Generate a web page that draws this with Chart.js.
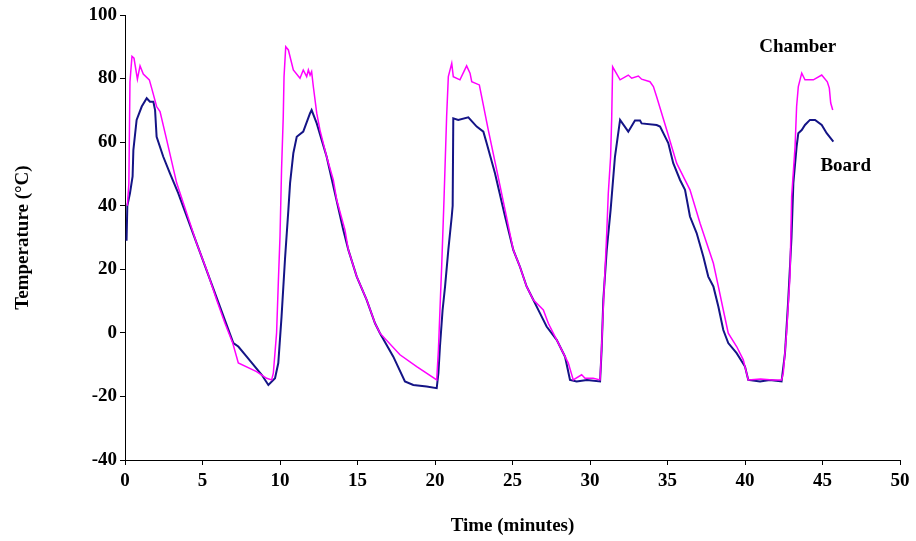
<!DOCTYPE html>
<html><head><meta charset="utf-8">
<script src="https://cdn.jsdelivr.net/npm/chart.js@4.4.1/dist/chart.umd.min.js"></script>
<style>html,body{margin:0;padding:0;background:#fff}#wrap{width:916px;height:541px}</style>
</head><body><div id="wrap"><canvas id="c" width="916" height="541"></canvas></div>
<script>
const xTicks = [0,5,10,15,20,25,30,35,40,45,50];
const yTicks = [-40,-20,0,20,40,60,80,100];
const seriesNames = ["Chamber","Board"];

const chamberTime = [0.15,0.25,0.32,0.45,0.58,0.8,0.97,1.18,1.57,1.72,2.04,2.26,2.69,3.33,4.19,4.62,5.27,5.91,6.45,6.95,7.31,8.49,9.14,9.46,9.57,9.78,9.89,10.0,10.1,10.21,10.26,10.37,10.54,10.86,11.29,11.5,11.72,11.83,11.94,12.04,12.15,12.37,12.58,13.01,13.44,13.66,14.19,14.41,14.95,15.59,16.13,16.45,17.74,18.82,20.11,20.22,20.32,20.43,20.58,20.75,20.86,21.08,21.18,21.61,22.04,22.26,22.37,22.86,23.01,23.44,23.98,24.52,25.05,25.48,25.91,26.34,26.99,27.31,27.85,28.28,28.6,28.92,29.46,29.68,30.2,30.65,30.75,30.86,31.08,31.18,31.33,31.4,31.46,31.94,32.47,32.69,33.12,33.33,33.87,34.09,34.3,34.95,35.59,36.45,37.1,37.53,37.96,38.28,38.6,38.92,39.46,39.89,40.21,41.0,41.8,42.36,42.47,42.68,42.9,43.01,43.23,43.33,43.44,43.66,43.87,44.41,44.95,45.31,45.44,45.53,45.66];
const chamberTemp = [40,47,79,87,86.4,79.8,84,81.4,79.6,77,71.2,69.6,60.7,47.2,34.6,28.2,19.8,10.4,3.0,-3.2,-9.5,-12.2,-14.3,-14.8,-12.7,0,15.6,30.3,51.3,68,80.6,90,89,82.7,80.1,82.7,80.6,82.7,81.1,82.2,77.5,69.1,63.8,55.4,48.1,41.8,32.4,26.1,17.7,10.4,3.0,-0.1,-6.9,-10.6,-14.8,-5.3,7.2,20.8,41.8,68,80.6,84.8,80.6,79.6,84,81.7,79,78,74.3,63.8,51.3,38.7,26.1,20.8,14.6,10.4,7.2,3.0,-2.2,-6.4,-9.5,-14.8,-13.2,-14.3,-14.3,-14.8,-4.3,8.3,31.4,43.9,55.4,67.5,83.7,79.6,81.1,80.1,80.8,79.8,79.0,77.5,74.3,63.8,53.4,45,34.5,28.2,21.9,14.6,7.2,-0.1,-4.3,-8.5,-14.8,-14.5,-14.8,-14.8,-12.7,-0.1,17.7,42.9,58.6,71.2,77.5,81.7,79.6,79.6,81.1,79,77,72.3,70.1];

const boardTime = [0.1,0.15,0.32,0.49,0.54,0.75,1.08,1.4,1.61,1.83,1.94,2.04,2.47,2.9,3.44,6.99,7.31,7.85,8.82,9.25,9.68,9.89,10.1,10.32,10.54,10.65,10.86,11.08,11.5,11.94,12.04,12.37,13.01,14.08,14.41,14.95,15.59,16.13,16.45,17.31,18.06,18.6,19.46,20.11,20.22,20.32,20.49,20.65,20.86,21.08,21.14,21.18,21.5,22.15,22.69,23.12,23.33,23.87,24.52,24.73,25.05,25.48,25.91,26.34,26.77,27.2,27.85,28.39,28.71,29.14,29.8,30.65,30.75,30.86,31.08,31.33,31.61,31.94,32.47,32.9,33.23,33.33,34.3,34.52,35.05,35.37,35.81,36.13,36.45,36.88,37.31,37.63,37.96,38.28,38.6,38.92,39.46,40.0,40.21,40.97,41.6,42.36,42.58,42.79,43.0,43.12,43.33,43.44,43.66,43.87,44.19,44.52,44.95,45.27,45.7];
const boardTemp = [29,40,43.9,49.2,57.5,67,71.2,73.8,72.7,72.7,70.1,61.7,55.4,50.2,43.9,-3.2,-4.3,-7.5,-13.2,-16.4,-14.3,-9.5,5.1,23,38.7,47.1,56.5,61.7,63.3,69.1,70.1,65.9,55.4,32.4,26.1,17.7,10.4,3.0,-0.1,-7.5,-15.3,-16.4,-16.9,-17.4,-12.7,-4.3,7.2,14.6,26.1,36.6,40,67.5,67,67.8,64.9,63.3,59.7,50.2,36.6,32.4,26.1,20.8,14.6,10.4,6.2,2,-2.2,-7.5,-14.8,-15.3,-14.8,-15.3,-5.3,10.4,26.1,38.7,55.4,67,63.3,66.8,66.8,65.9,65.4,64.9,59.7,53.4,48.1,45,36.6,31.4,24,17.7,14.6,8.3,0.9,-3.2,-6.4,-10.6,-14.8,-15.3,-14.8,-15.3,-6.4,10.4,30,47.1,58.6,62.8,63.8,65.4,67,67,65.4,62.8,60.2];

// label anchors in data units
const labelTime = [43.4, 46.5];
const labelTemp = [90, 52.5];

const toPts = (xs, ys) => xs.map((x, i) => ({x: x, y: ys[i]}));

const FONT = "'Liberation Serif', 'Times New Roman', serif";

const labelPlugin = {
  id: 'seriesLabels',
  afterDatasetsDraw(chart) {
    const ctx = chart.ctx, xs = chart.scales.x, ys = chart.scales.y;
    ctx.save();
    ctx.font = "bold 19px " + FONT;
    ctx.fillStyle = '#000';
    ctx.textAlign = 'center';
    ctx.textBaseline = 'middle';
    seriesNames.forEach((n, i) => {
      ctx.fillText(n, xs.getPixelForValue(labelTime[i]), ys.getPixelForValue(labelTemp[i]));
    });
    ctx.restore();
  }
};

new Chart(document.getElementById('c'), {
  type: 'scatter',
  data: {
    datasets: [
      {label: seriesNames[0], data: toPts(chamberTime, chamberTemp), showLine: true, borderColor: '#ff00ff', borderWidth: 1.5, pointRadius: 0, tension: 0, order: 0},
      {label: seriesNames[1], data: toPts(boardTime, boardTemp), showLine: true, borderColor: '#141486', borderWidth: 2, pointRadius: 0, tension: 0, order: 1}
    ]
  },
  options: {
    responsive: false,
    animation: false,
    devicePixelRatio: 1,
    layout: {padding: {left: 0, right: 16, top: 15, bottom: 0}},
    plugins: {legend: {display: false}, tooltip: {enabled: false}},
    scales: {
      x: {
        type: 'linear', min: 0, max: 50,
        afterBuildTicks: s => { s.ticks = xTicks.map(v => ({value: v})); },
        afterFit: s => { s.height = 81; },
        border: {display: true, color: '#000', width: 1},
        grid: {display: true, drawOnChartArea: false, drawTicks: true, tickLength: 5, color: '#000'},
        ticks: {color: '#000', font: {family: FONT, size: 19, weight: 'bold'}, padding: 5, maxRotation: 0},
        title: {display: true, text: 'Time (minutes)', color: '#000', font: {family: FONT, size: 19, weight: 'bold'}, padding: {top: 0, bottom: 4}}
      },
      y: {
        type: 'linear', min: -40, max: 100,
        afterBuildTicks: s => { s.ticks = yTicks.map(v => ({value: v})); },
        afterFit: s => { s.width = 125; },
        border: {display: true, color: '#000', width: 1},
        grid: {display: true, drawOnChartArea: false, drawTicks: true, tickLength: 5, color: '#000'},
        ticks: {color: '#000', font: {family: FONT, size: 19, weight: 'bold'}, padding: 3},
        title: {display: true, text: 'Temperature (\u00B0C)', color: '#000', font: {family: FONT, size: 19, weight: 'bold'}, padding: {top: 12, bottom: 0}}
      }
    }
  },
  plugins: [labelPlugin]
});
</script></body></html>
